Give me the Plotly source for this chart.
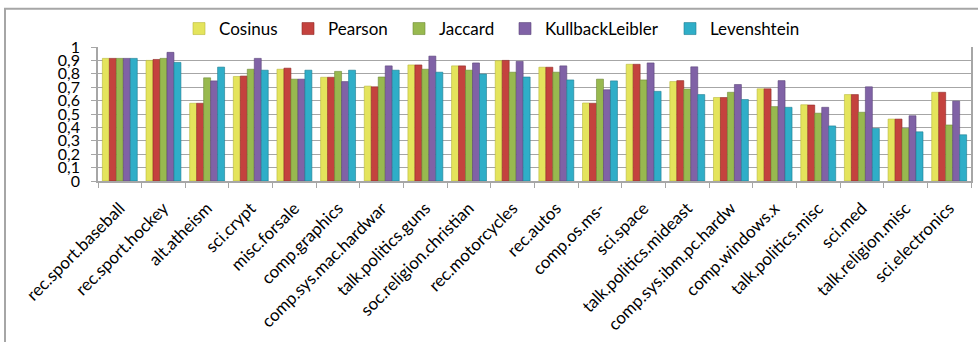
import plotly.graph_objects as go

categories = ["rec.sport.baseball", "rec.sport.hockey", "alt.atheism", "sci.crypt", "misc.forsale",
              "comp.graphics", "comp.sys.mac.hardwar", "talk.politics.guns", "soc.religion.christian",
              "rec.motorcycles", "rec.autos", "comp.os.ms-", "sci.space", "talk.politics.mideast",
              "comp.sys.ibm.pc.hardw", "comp.windows.x", "talk.politics.misc", "sci.med",
              "talk.religion.misc", "sci.electronics"]

cosinus = [0.915, 0.900, 0.580, 0.780, 0.834, 0.774, 0.708, 0.866, 0.859, 0.898,
           0.849, 0.582, 0.871, 0.742, 0.623, 0.688, 0.569, 0.645, 0.462, 0.662]
pearson = [0.915, 0.907, 0.580, 0.783, 0.842, 0.774, 0.703, 0.866, 0.859, 0.900,
           0.849, 0.580, 0.871, 0.749, 0.623, 0.688, 0.567, 0.645, 0.462, 0.662]
jaccard = [0.915, 0.915, 0.770, 0.834, 0.760, 0.818, 0.776, 0.834, 0.827, 0.812,
           0.812, 0.760, 0.754, 0.686, 0.662, 0.555, 0.506, 0.513, 0.392, 0.418]
kullback = [0.915, 0.960, 0.747, 0.915, 0.760, 0.742, 0.859, 0.932, 0.881, 0.893,
            0.859, 0.681, 0.881, 0.852, 0.720, 0.749, 0.550, 0.703, 0.487, 0.596]
levenshtein = [0.915, 0.885, 0.850, 0.827, 0.827, 0.827, 0.827, 0.812, 0.798, 0.776,
               0.754, 0.747, 0.669, 0.645, 0.608, 0.550, 0.411, 0.392, 0.367, 0.345]

y_ticks = [0, 0.1, 0.2, 0.3, 0.4, 0.5, 0.6, 0.7, 0.8, 0.9, 1]
y_ticktext = ["0", "0,1", "0,2", "0,3", "0,4", "0,5", "0,6", "0,7", "0,8", "0,9", "1"]

series = [
    ("Cosinus", cosinus, "#E4E45C", "#B8B83A"),
    ("Pearson", pearson, "#C4423E", "#8E2A27"),
    ("Jaccard", jaccard, "#98B94F", "#6F8A35"),
    ("KullbackLeibler", kullback, "#8062A6", "#5A4479"),
    ("Levenshtein", levenshtein, "#2FAEC8", "#1E7E92"),
]

FONT = "Lato"
W, H = 978, 342

# pixel x where each legend entry's text begins
legend_text_px = [219, 328, 439, 545, 710]

fig = go.Figure()
legend_ids = ["legend", "legend2", "legend3", "legend4", "legend5"]
for (name, vals, col, edge), lid in zip(series, legend_ids):
    fig.add_trace(go.Bar(
        name=name, x=categories, y=vals, legend=lid,
        marker=dict(color=col, line=dict(color=edge, width=0.6)),
    ))

legend_layout = {}
for lid, tx in zip(legend_ids, legend_text_px):
    legend_layout[lid] = dict(
        orientation="h", xref="container", yref="container",
        x=(tx - 40) / W, xanchor="left", y=1 - 11 / H, yanchor="top",
        font=dict(family=FONT, size=17), itemwidth=30,
        bgcolor="rgba(0,0,0,0)", borderwidth=0,
    )

fig.update_layout(
    width=W, height=H,
    margin=dict(l=98, r=7, t=44, b=161),
    paper_bgcolor="white", plot_bgcolor="white",
    barmode="group", bargap=0.2, bargroupgap=0,
    font=dict(family=FONT, size=15, color="#000000"),
    showlegend=True,
    xaxis=dict(
        type="category", tickangle=-45, tickfont=dict(family=FONT, size=17),
        showline=True, linecolor="#A6A6A6", linewidth=1.5,
        ticks="outside", tickson="boundaries", ticklen=5, tickcolor="#A6A6A6",
        showgrid=False, automargin=False, ticklabelstandoff=9,
    ),
    yaxis=dict(
        range=[0, 1], tickvals=y_ticks, ticktext=y_ticktext,
        tickfont=dict(family=FONT, size=16),
        showline=True, linecolor="#A6A6A6", linewidth=1.5, mirror=True,
        ticks="outside", ticklen=5, tickcolor="#A6A6A6",
        showgrid=True, gridcolor="#A6A6A6", gridwidth=1.2,
        zeroline=False, automargin=False, ticklabelstandoff=8,
    ),
    **legend_layout,
)

# outer chart border (only left and top edges fall inside the image)
fig.add_shape(type="rect", xref="paper", yref="paper",
              x0=-93 / 873, x1=1 + 40 / 873, y0=-(342 - 181 + 40) / 137, y1=1 + 39 / 137,
              line=dict(color="#A6A6A6", width=2), fillcolor="rgba(0,0,0,0)", layer="below")

fig.write_html("out.html")
